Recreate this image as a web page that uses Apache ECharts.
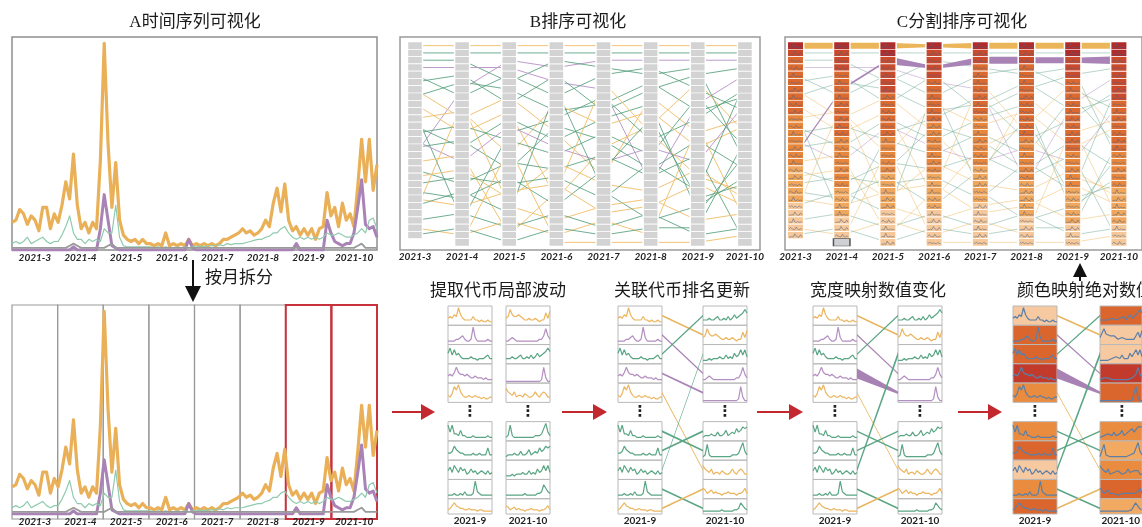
<!DOCTYPE html>
<html>
<head>
<meta charset="utf-8">
<title>chart</title>
<script src="https://cdn.jsdelivr.net/npm/echarts@6/dist/echarts.min.js"></script>
<style>
html,body{margin:0;padding:0;background:#ffffff;}
#chart{width:1142px;height:527px;}
</style>
</head>
<body>
<div id="chart"></div>
<script>
// ================= DATA =================
const months = ['2021-3','2021-4','2021-5','2021-6','2021-7','2021-8','2021-9','2021-10'];

// Panel A: four coins, ~12 samples per month
const orangeA = [13,14,19,17,12,16,14,9,20,20,10,17,
  13,21,32,24,45,21,10,13,8,13,10,42,
  97,50,20,41,14,7,5,4,5,3,5,3,
  3,2,3,2,8,2,3,2,3,2,5,2,
  3,2,3,2,3,2,3,5,5,6,7,8,
  10,8,9,7,8,10,14,11,22,29,18,31,
  14,9,11,7,10,7,10,5,10,11,27,16,
  20,11,22,14,17,11,30,52,32,52,28,40];
const purpleA = [0,0,0,0,0,0,0,0,0,0,0,0,
  0,0,0,0,1.5,0,0,0,0,0,0,10,
  26,14,2,1,0,0,0,0,0,0,0,0,
  0,0,0,0,0,0,0,0,0,0,5,1,
  0,0,0,0,0,0,0,0,0,0,0,0,
  0,0,0,0,0,0,0,0,0,0,0,0,
  0,0,3,0,0,0,0,0,0,0,14,8,
  4,3,2,3,3,8,20,33,12,10,11,6];
const greenA = [3,4,3,4,6,3,4,5,6,4,3,4,
  4,7,11,16,8,5,5,3,5,4,5,4,
  10,8,8,21,6,2,1.5,1.5,1.5,1.5,1.5,1.5,
  1.5,1,1.5,1,1.5,1,1,1.5,1,1.5,1,1.5,
  1.5,2,1.5,2,2,2,2.5,2,3,2.5,3,3,
  3,3.5,4,4.5,5,5,6,6.5,8,8,10,11,
  8,6,5,6,5,6,5,6,5,6,8,7,
  7,8,7,6,6,7,8,10,8,14,15,10];
const grayA = [1,1,1,1,1,1,1,1,1,1,1,1,
  1,1,1,2,3,2,1,1,1,1,1,1,
  1,2,3,1,1,1,1,1,1,1,1,1,
  1,1,1,1,1,1,1,1,1,1,1,1,
  1,1,1,1,1,1,1,1,1,1,1,1,
  1,1,1,1,1,1,1,1,1,1,1,1,
  1,1,1,1,1,1,1,1,1,1,1,1,
  1,1,1,1,1,1,2,3,1,1,1,1];

// Panels B / C: rank (row) of each coin per month
const rankB = [
  [0,0,0,0,0,0,0,0],
  [15,6,2,3,2,2,2,2],
  [1,1,1,1,1,1,1,1],
  [2,2,5,2,3,4,3,16],
  [3,3,3,5,6,19,8,4],
  [4,7,4,7,4,3,6,9],
  [5,4,8,4,9,6,4,3],
  [6,10,7,12,18,7,12,10],
  [7,5,6,9,8,5,9,7],
  [8,12,9,21,14,11,5,12],
  [9,24,12,10,7,13,10,6],
  [10,9,15,8,11,9,14,11],
  [11,14,10,13,10,8,23,15],
  [12,11,13,15,12,15,7,14],
  [13,16,11,14,16,14,16,8],
  [14,13,17,11,13,17,13,17],
  [16,15,26,20,5,12,18,20],
  [17,19,16,17,15,18,15,27],
  [18,17,21,16,19,20,17,21],
  [19,18,19,18,21,16,20,5],
  [20,21,18,22,17,10,21,19],
  [21,22,20,19,23,22,19,22],
  [22,20,23,6,20,24,22,18],
  [23,8,22,24,22,21,24,23],
  [24,23,25,23,25,23,26,25],
  [25,26,24,26,24,26,11,24],
  [26,25,27,25,26,25,25,13],
  [null,27,14,27,27,27,27,26]
];
const coinColorB = ['o','p','g','g','p','g','g','o','g','o','g','o','g','g','p','g','o','g','o','g','g','o','g','o','g','o','g','o'];
// Panel C: shade level of each row per month (5 = darkest, 0 = lightest, g = grey highlight)
const cShade = [
  '543333333322222221111100000',
  '544433333333322222221111000g',
  '5544444333333222221111100000',
  '5444433333322222221111100000',
  '5443333333222222211111000000',
  '5443333333333222222111110000',
  '5544433333333332222211111000',
  '5544444433333332222211111000'
];
// tiny in-cell sparkline shapes and which shape each coin uses
const cellShapes = [
  [0.1,0.2,0.1,0.9,0.2,0.1,0.3,0.1,0.2,0.1],
  [0.2,0.6,0.3,0.2,0.1,0.7,0.2,0.1,0.3,0.2],
  [0.1,0.1,0.2,0.1,0.8,0.3,0.1,0.1,0.6,0.1],
  [0.5,0.3,0.6,0.2,0.4,0.3,0.2,0.5,0.3,0.2]
];
const coinCellShape = [0,1,2,3,1,0,3,2,0,1,2,3,1,0,3,2,0,1,2,3,1,0,3,2,0,1,2,3];
const orangeBandOut = [6,6,6,3,6,6,6];
const orangeBandIn  = [6,6,2.5,6,6,6,6];
const purpleBandOut = [2,2,8,2.5,7,6,5];
const purpleBandIn  = [2,2,2.5,7,7,6,8];

// Bottom: local fluctuation of 10 coins in Sep and Oct
const coinColorS = ['o','p','g','p','o','g','g','g','g','o'];
const sepLines = [
  [4,5,4,6,5,10,6,4,3,3,3,3,5,3,3,2,3,2,2,3,2,2],
  [2,2,2,2,3,3,4,5,3,2,2,3,10,4,2,2,2,2,2,3,2,2],
  [6,9,5,8,5,6,4,3,3,3,3,4,3,3,2,3,3,3,4,5,3,3],
  [4,5,4,6,9,6,5,5,4,5,4,3,3,4,3,3,3,2,3,2,2,2],
  [4,3,5,9,7,10,6,4,3,3,4,3,3,4,3,3,2,3,2,2,3,3],
  [9,5,9,4,4,3,6,3,3,2,2,2,3,2,2,2,2,2,2,3,2,2],
  [4,4,5,8,6,5,4,4,3,3,3,3,4,3,3,4,3,3,3,7,3,3],
  [5,7,4,8,6,4,7,5,6,3,4,6,4,5,3,4,5,4,3,5,3,4],
  [2,2,2,3,2,2,3,2,4,2,2,2,3,10,4,3,2,2,2,2,2,2],
  [3,4,6,8,6,5,4,4,3,3,4,3,3,3,2,3,3,2,2,2,2,2]
];
const octLines = [
  [4,5,9,6,5,5,6,5,4,3,3,4,3,3,4,3,2,3,3,7,4,8],
  [2,2,3,4,3,2,2,2,2,2,2,2,2,2,2,2,3,3,5,9,5,3],
  [3,3,3,4,3,3,4,5,3,3,4,3,5,3,4,6,4,5,6,7,9,7],
  [1,1,1,1,1,1,1,1,1,1,1,1,1,1,1,1,1,2,9,3,1,1],
  [8,6,5,4,6,3,4,4,3,5,4,3,3,4,6,4,3,5,6,5,3,3],
  [2,3,9,3,2,2,2,2,2,2,2,2,2,2,3,3,3,4,7,10,5,3],
  [2,3,3,3,4,3,3,5,3,3,4,6,3,4,5,4,7,5,6,8,7,8],
  [2,2,2,3,2,3,3,3,4,3,3,5,3,4,3,6,4,5,8,5,8,4],
  [2,2,2,2,2,2,2,2,2,3,2,2,2,2,2,3,3,4,8,6,4,3],
  [6,5,3,4,5,3,4,3,3,2,3,3,4,3,3,3,2,3,3,4,6,3]
];
const octRank = [1,3,0,4,7,6,5,2,9,8];        // new position of each coin in Oct
const changeWidthOut = [1.6,1.6,1.6,10,1.6,1.6,1.6,4,1.6,1.6];
const changeWidthIn  = [1.6,1.6,1.6,2.5,1.6,1.6,1.6,5,1.6,1.6];
const sepShade = [0,3,3,4,2,2,3,0,2,3];
const octShade = [0,4,3,3,2,1,2,0,1,3];

// ================= STYLE =================
const LINE_B = {o:'rgba(240,192,110,0.95)', g:'rgba(86,160,125,0.85)', p:'rgba(185,150,200,0.95)'};
const LINE_C = {o:'rgba(240,192,110,0.6)', g:'rgba(110,170,145,0.55)', p:'rgba(185,150,200,0.6)'};
const SPARK = {o:'#ecb55f', p:'#b48fc1', g:'#5aa584'};
const CONN = {o:'#e8b55e', p:'#a982b5', g:'#5aa584'};
const C_PAL = ['#f6c899','#f0a75c','#e8873b','#dc692e','#cb4a2c','#b02c2b'];
const BG_PAL = ['#f6c9a0','#f2aa62','#e98c3f','#da662e','#c23a2b'];
const LBL = {fontFamily:'Lato, "Liberation Sans", sans-serif', fontStyle:'italic', fontWeight:'bold', fontSize:10, color:'#222'};
const TITLE_FONT = '"Liberation Serif", "Noto Sans CJK SC", serif';

const grid=[], xAxis=[], yAxis=[], series=[], graphic=[];

function frame(left, top, width, height, color, bw) {
  const g = grid.push({left, top, width, height, show:true, borderColor:color, borderWidth:bw, backgroundColor:'rgba(0,0,0,0)'}) - 1;
  xAxis.push({gridIndex:g, type:'value', show:false});
  yAxis.push({gridIndex:g, type:'value', show:false});
}

function timePanel(top, height, showBorder, margin) {
  const g = grid.push({left:12, top, width:365, height, show:showBorder, borderColor:'#8f8f8f', borderWidth:1.5}) - 1;
  xAxis.push({gridIndex:g, type:'category', data:months, boundaryGap:true, axisLine:{show:false}, axisTick:{show:false}, splitLine:{show:false}, axisLabel:Object.assign({}, LBL, {margin, interval:0})});
  const xd = xAxis.push({gridIndex:g, type:'category', data:orangeA.map((_, i) => i), boundaryGap:false, show:false}) - 1;
  const yi = yAxis.push({gridIndex:g, type:'value', min:0, max:100, show:false}) - 1;
  const mk = (data, color, width) => series.push({type:'line', xAxisIndex:xd, yAxisIndex:yi, data, symbol:'none', silent:true, z:3, clip:true, lineStyle:{color, width, join:'round'}});
  mk(orangeA, '#eab057', 3.2);
  mk(purpleA, '#a983b6', 3);
  mk(greenA, '#8fcaae', 1.2);
  mk(grayA, '#9a9a9a', 1.8);
}

function band(xi, yi, ranks, wOut, wIn, color) {
  const data = [];
  for (let i = 0; i < ranks.length - 1; i++) data.push([i, ranks[i], i + 1, ranks[i + 1], wOut[i], wIn[i]]);
  series.push({type:'custom', xAxisIndex:xi, yAxisIndex:yi, data, silent:true, z:3, encode:{x:0, y:1},
    renderItem: (params, api) => {
      const a = api.coord([api.value(0), api.value(1)]);
      const b = api.coord([api.value(2), api.value(3)]);
      const h1 = api.value(4) / 2, h2 = api.value(5) / 2;
      return {type:'polygon', shape:{points:[[a[0], a[1]-h1],[b[0], b[1]-h2],[b[0], b[1]+h2],[a[0], a[1]+h1]]}, style:{fill:color}};
    }});
}

function rankPanel(frameLeft, dataLeft, isC) {
  frame(frameLeft, 37, 360, 213, '#9a9a9a', 1.5);
  const g = grid.push({left:dataLeft, top:42, width:377.1, height:204}) - 1;
  const xi = xAxis.push({gridIndex:g, type:'category', data:months, boundaryGap:true, axisLine:{show:false}, axisTick:{show:false}, splitLine:{show:false}, axisLabel:Object.assign({}, LBL, {margin:6, interval:0})}) - 1;
  const yi = yAxis.push({gridIndex:g, type:'value', min:-0.5, max:27.5, inverse:true, show:false}) - 1;
  rankB.forEach((r, c) => {
    if (isC && c < 2) return;
    const col = isC ? LINE_C[coinColorB[c]] : LINE_B[coinColorB[c]];
    series.push({type:'line', xAxisIndex:xi, yAxisIndex:yi, data:r, symbol:'none', silent:true, z:2, lineStyle:{color:col, width:isC ? 0.9 : 1}});
  });
  if (isC) {
    band(xi, yi, rankB[0], orangeBandOut, orangeBandIn, '#ebb55a');
    band(xi, yi, rankB[1], purpleBandOut, purpleBandIn, '#a983b6');
  }
  const cells = [], marks = [];
  rankB.forEach((r, c) => r.forEach((v, m) => {
    if (v == null) return;
    if (!isC) { cells.push([m, v]); return; }
    const ch = cShade[m][v] || '0';
    if (ch === 'g') { cells.push({value:[m, v], itemStyle:{color:'#cfd0d3', borderColor:'#555', borderWidth:1, opacity:1}}); return; }
    cells.push({value:[m, v], itemStyle:{color:C_PAL[+ch], opacity:1}});
    marks.push([m, v, coinCellShape[c]]);
  }));
  series.push({type:'scatter', xAxisIndex:xi, yAxisIndex:yi, data:cells, symbol:'rect',
    symbolSize:isC ? [16.5, 7.3] : [15, 7.3], itemStyle:{color:'#d3d3d3', borderColor:'#ffffff', borderWidth:1, opacity:1},
    silent:true, z:4});
  if (isC) {
    series.push({type:'custom', xAxisIndex:xi, yAxisIndex:yi, data:marks, silent:true, z:5, encode:{x:0, y:1},
      renderItem: (params, api) => {
        const p = api.coord([api.value(0), api.value(1)]);
        const shp = cellShapes[api.value(2)];
        const pts = shp.map((h, i) => [p[0] - 6.5 + i * 13 / (shp.length - 1), p[1] + 2.4 - h * 4.6]);
        return {type:'polyline', shape:{points:pts}, style:{stroke:'rgba(75,95,130,0.75)', lineWidth:0.7, fill:null}};
      }});
  }
}

// ---------- top row ----------
timePanel(37, 213, true, 3);
rankPanel(400, 391.4, false);
rankPanel(785, 772.4, true);

// ---------- bottom-left split ----------
timePanel(305, 214, false, 3);
for (let i = 0; i < 8; i++) {
  const red = i >= 6;
  frame(12 + i * 365 / 8, 305, 365 / 8, 214, red ? '#c8323c' : '#9a9a9a', red ? 2 : 1.2);
}

// ---------- sparkline panels ----------
const slotH = 212 / 11;
const slotOf = k => (k < 5 ? k : k + 1);
const coinAtPos = [];
octRank.forEach((p, c) => { coinAtPos[p] = c; });

function sparkBox(left, top, data, color, bg, label) {
  const g = grid.push({left, top, width:44, height:slotH, show:true, borderColor:'#b9b9b9', borderWidth:1, backgroundColor:bg || 'rgba(0,0,0,0)'}) - 1;
  const xa = {gridIndex:g, type:'category', data:data.map((_, i) => i), boundaryGap:false, show:false};
  if (label) Object.assign(xa, {show:true, axisLine:{show:false}, axisTick:{show:false}, axisLabel:{show:false}, splitLine:{show:false},
    name:label, nameLocation:'middle', nameGap:2, nameTextStyle:{fontFamily:'Lato, sans-serif', fontWeight:'bold', fontSize:10, color:'#222', verticalAlign:'top'}});
  const xi = xAxis.push(xa) - 1;
  const yi = yAxis.push({gridIndex:g, type:'value', min:0, max:11, show:false}) - 1;
  series.push({type:'line', xAxisIndex:xi, yAxisIndex:yi, data, symbol:'none', silent:true, z:3, lineStyle:{color, width:1.2}});
}

function connectors(x1, x2, wOut, wIn) {
  const g = grid.push({left:x1, top:306, width:x2 - x1, height:212}) - 1;
  const xi = xAxis.push({gridIndex:g, type:'value', min:0, max:1, show:false}) - 1;
  const yi = yAxis.push({gridIndex:g, type:'value', min:0, max:11, inverse:true, show:false}) - 1;
  const cols = ['o','p','g'];
  const data = octRank.map((p, c) => [0, slotOf(c) + 0.5, 1, slotOf(p) + 0.5, wOut[c], wIn[c], cols.indexOf(coinColorS[c])]);
  series.push({type:'custom', xAxisIndex:xi, yAxisIndex:yi, data, silent:true, z:2, encode:{x:0, y:1},
    renderItem: (params, api) => {
      const a = api.coord([api.value(0), api.value(1)]);
      const b = api.coord([api.value(2), api.value(3)]);
      const h1 = api.value(4) / 2, h2 = api.value(5) / 2;
      return {type:'polygon', shape:{points:[[a[0], a[1]-h1],[b[0], b[1]-h2],[b[0], b[1]+h2],[a[0], a[1]+h1]]}, style:{fill:CONN[cols[api.value(6)]]}};
    }});
}

const sparkPanels = [
  {lx:448, rx:506, sorted:false},
  {lx:618, rx:703, sorted:true, wOut:[1.8,1.8,1.8,1.8,1.8,1.8,1.8,1.8,1.8,1.8], wIn:[1.8,1.8,1.8,1.8,1.8,1.8,1.8,1.8,1.8,1.8]},
  {lx:813, rx:898, sorted:true, wOut:changeWidthOut, wIn:changeWidthIn},
  {lx:1013, rx:1100, sorted:true, wOut:changeWidthOut, wIn:changeWidthIn, colored:true}
];
sparkPanels.forEach(p => {
  for (let k = 0; k < 10; k++) {
    const top = 306 + slotOf(k) * slotH;
    sparkBox(p.lx, top, sepLines[k], p.colored ? '#5b7fa8' : SPARK[coinColorS[k]], p.colored ? BG_PAL[sepShade[k]] : null, k === 9 ? '2021-9' : null);
    const c = p.sorted ? coinAtPos[k] : k;
    sparkBox(p.rx, top, octLines[c], p.colored ? '#5b7fa8' : SPARK[coinColorS[c]], p.colored ? BG_PAL[octShade[c]] : null, k === 9 ? '2021-10' : null);
  }
  if (p.sorted) connectors(p.lx + 44, p.rx, p.wOut, p.wIn);
  graphic.push({type:'text', x:p.lx + 22, y:412, silent:true, style:{text:'⋮', fontFamily:'DejaVu Sans', fontWeight:'bold', fontSize:15, fill:'#222', align:'center', verticalAlign:'middle', textAlign:'center', textVerticalAlign:'middle'}});
  graphic.push({type:'text', x:p.rx + 22, y:412, silent:true, style:{text:'⋮', fontFamily:'DejaVu Sans', fontWeight:'bold', fontSize:15, fill:'#222', align:'center', verticalAlign:'middle', textAlign:'center', textVerticalAlign:'middle'}});
});

// ---------- annotations ----------
function txt(text, x, y, align) {
  graphic.push({type:'text', x, y, silent:true, style:{text, fontFamily:TITLE_FONT, fontSize:17, fill:'#1a1a1a', align:align || 'center', verticalAlign:'middle', textAlign:align || 'center', textVerticalAlign:'middle'}});
}
txt('A时间序列可视化', 195, 23);
txt('B排序可视化', 578, 23);
txt('C分割排序可视化', 962, 23);
txt('按月拆分', 239, 279);
txt('提取代币局部波动', 498, 292);
txt('关联代币排名更新', 682, 292);
txt('宽度映射数值变化', 878, 292);
txt('颜色映射绝对数值', 1017, 292, 'left');

function redArrow(x1, x2, y) {
  graphic.push({type:'line', silent:true, shape:{x1, y1:y, x2:x2 - 12, y2:y}, style:{stroke:'#c3282e', lineWidth:2}});
  graphic.push({type:'polygon', silent:true, shape:{points:[[x2 - 14, y - 8],[x2, y],[x2 - 14, y + 8]]}, style:{fill:'#c3282e'}});
}
redArrow(392, 435, 412);
redArrow(562, 607, 412);
redArrow(757, 803, 412);
redArrow(958, 1002, 412);

graphic.push({type:'line', silent:true, shape:{x1:193, y1:260, x2:193, y2:288}, style:{stroke:'#111', lineWidth:2}});
graphic.push({type:'polygon', silent:true, shape:{points:[[185, 286],[201, 286],[193, 302]]}, style:{fill:'#111'}});
graphic.push({type:'polygon', silent:true, shape:{points:[[1073, 277],[1087, 277],[1080, 263]]}, style:{fill:'#111'}});
graphic.push({type:'line', silent:true, shape:{x1:1080, y1:275, x2:1080, y2:281}, style:{stroke:'#111', lineWidth:2}});

const chart = echarts.init(document.getElementById('chart'), null, {renderer:'canvas'});
chart.setOption({animation:false, backgroundColor:'#ffffff', grid, xAxis, yAxis, series, graphic});
</script>
</body>
</html>
